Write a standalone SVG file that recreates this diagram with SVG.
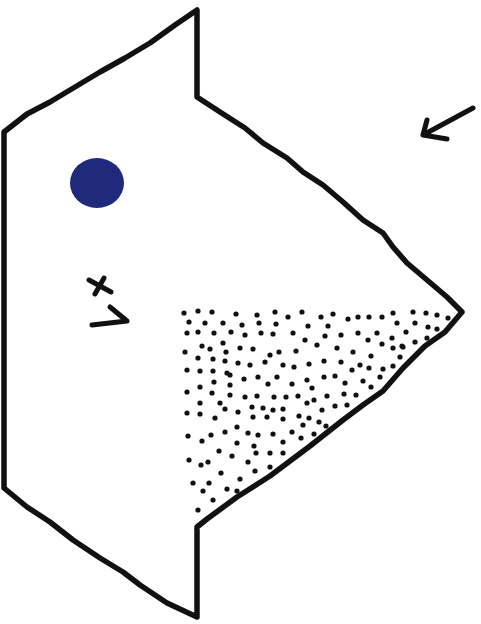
<svg xmlns="http://www.w3.org/2000/svg" width="481" height="624" viewBox="0 0 481 624">
<style>
.ink{fill:none;stroke:#111;stroke-width:5.5;stroke-linecap:round;stroke-linejoin:round}
.mark{fill:none;stroke:#111;stroke-width:5;stroke-linecap:round;stroke-linejoin:round}
.d circle{fill:#111}
</style>
<rect width="481" height="624" fill="#fff"/>
<g id="outline">
<path class="ink" d="M197,10 L197,97 L220,112 L245,128 L263,143 L287,158 L303,172 L323,185 L343,202 L363,220 L383,233 L393,247 L407,263 L427,280 L447,297 L462,312 L445,332 L425,346 L403,368 L383,391 L363,405 L343,420 L310,446 L290,461 L270,476 L237,497 L207,519 L197,527 L197,617 L167,603 L140,585 L123,572 L100,558 L73,540 L50,522 L27,507 L4,488 L4,132 L27,114 L50,102 L75,87 L100,72 L125,58 L150,43 L175,25 Z"/>
</g>
<g id="eye">
<ellipse cx="97" cy="183" rx="27" ry="25" fill="#1f2a7c"/>
</g>
<g id="marks">
<path class="mark" d="M89,280 L111,292 M104,278 L95,294"/>
<path class="mark" d="M92,325 L127,321 L110,307"/>
</g>
<g id="arrow">
<path class="mark" d="M473,108 L423,135 M427,120 L423,135 L447,139"/>
</g>
<g id="stipple" class="d">
<circle cx="184" cy="313" r="2.6"/><circle cx="198" cy="311" r="2.6"/><circle cx="212" cy="312" r="2.6"/><circle cx="236" cy="314" r="2.6"/><circle cx="257" cy="315" r="2.6"/><circle cx="275" cy="312" r="2.6"/><circle cx="288" cy="317" r="2.6"/><circle cx="302" cy="312" r="2.6"/><circle cx="321" cy="317" r="2.6"/><circle cx="333" cy="314" r="2.6"/><circle cx="348" cy="319" r="2.6"/><circle cx="358" cy="317" r="2.6"/><circle cx="369" cy="317" r="2.6"/><circle cx="382" cy="317" r="2.6"/><circle cx="393" cy="313" r="2.6"/><circle cx="413" cy="312" r="2.6"/><circle cx="426" cy="313" r="2.6"/><circle cx="437" cy="315" r="2.6"/><circle cx="448" cy="318" r="2.6"/>
<circle cx="189" cy="322" r="2.6"/><circle cx="205" cy="323" r="2.6"/><circle cx="223" cy="323" r="2.6"/><circle cx="242" cy="325" r="2.6"/><circle cx="259" cy="323" r="2.6"/><circle cx="276" cy="324" r="2.6"/><circle cx="308" cy="326" r="2.6"/><circle cx="328" cy="326" r="2.6"/><circle cx="397" cy="323" r="2.6"/><circle cx="415" cy="323" r="2.6"/><circle cx="428" cy="327" r="2.6"/><circle cx="437" cy="329" r="2.6"/>
<circle cx="187" cy="333" r="2.6"/><circle cx="198" cy="332" r="2.6"/><circle cx="214" cy="333" r="2.6"/><circle cx="231" cy="332" r="2.6"/><circle cx="245" cy="335" r="2.6"/><circle cx="261" cy="333" r="2.6"/><circle cx="273" cy="334" r="2.6"/><circle cx="293" cy="333" r="2.6"/><circle cx="325" cy="336" r="2.6"/><circle cx="341" cy="335" r="2.6"/><circle cx="358" cy="333" r="2.6"/><circle cx="377" cy="333" r="2.6"/><circle cx="392" cy="338" r="2.6"/><circle cx="406" cy="332" r="2.6"/><circle cx="427" cy="338" r="2.6"/>
<circle cx="305" cy="340" r="2.6"/><circle cx="368" cy="340" r="2.6"/><circle cx="382" cy="344" r="2.6"/><circle cx="403" cy="347" r="2.6"/><circle cx="415" cy="342" r="2.6"/><circle cx="223" cy="343" r="2.6"/><circle cx="202" cy="346" r="2.6"/><circle cx="210" cy="349" r="2.6"/><circle cx="240" cy="348" r="2.6"/><circle cx="253" cy="349" r="2.6"/><circle cx="317" cy="345" r="2.6"/><circle cx="337" cy="348" r="2.6"/><circle cx="393" cy="348" r="2.6"/><circle cx="402" cy="346" r="2.6"/>
<circle cx="185" cy="352" r="2.6"/><circle cx="226" cy="352" r="2.6"/><circle cx="270" cy="355" r="2.6"/><circle cx="279" cy="352" r="2.6"/><circle cx="296" cy="351" r="2.6"/><circle cx="353" cy="352" r="2.6"/><circle cx="371" cy="356" r="2.6"/><circle cx="400" cy="357" r="2.6"/>
<circle cx="198" cy="358" r="2.6"/><circle cx="213" cy="359" r="2.6"/><circle cx="225" cy="361" r="2.6"/><circle cx="238" cy="363" r="2.6"/><circle cx="250" cy="365" r="2.6"/><circle cx="265" cy="362" r="2.6"/><circle cx="283" cy="365" r="2.6"/><circle cx="294" cy="367" r="2.6"/><circle cx="309" cy="364" r="2.6"/><circle cx="324" cy="361" r="2.6"/><circle cx="341" cy="362" r="2.6"/><circle cx="360" cy="365" r="2.6"/><circle cx="369" cy="368" r="2.6"/><circle cx="383" cy="369" r="2.6"/><circle cx="393" cy="366" r="2.6"/>
<circle cx="187" cy="370" r="2.6"/><circle cx="200" cy="371" r="2.6"/><circle cx="213" cy="371" r="2.6"/><circle cx="227" cy="373" r="2.6"/><circle cx="352" cy="370" r="2.6"/>
<circle cx="230" cy="375" r="2.6"/><circle cx="244" cy="379" r="2.6"/><circle cx="258" cy="377" r="2.6"/><circle cx="277" cy="377" r="2.6"/><circle cx="292" cy="384" r="2.6"/><circle cx="307" cy="380" r="2.6"/><circle cx="324" cy="377" r="2.6"/><circle cx="335" cy="376" r="2.6"/><circle cx="345" cy="383" r="2.6"/><circle cx="363" cy="381" r="2.6"/><circle cx="380" cy="377" r="2.6"/>
<circle cx="200" cy="387" r="2.6"/><circle cx="214" cy="382" r="2.6"/><circle cx="230" cy="385" r="2.6"/><circle cx="268" cy="384" r="2.6"/><circle cx="312" cy="388" r="2.6"/><circle cx="371" cy="387" r="2.6"/>
<circle cx="187" cy="392" r="2.6"/><circle cx="212" cy="393" r="2.6"/><circle cx="230" cy="395" r="2.6"/><circle cx="245" cy="397" r="2.6"/><circle cx="257" cy="396" r="2.6"/><circle cx="274" cy="397" r="2.6"/><circle cx="286" cy="397" r="2.6"/><circle cx="298" cy="396" r="2.6"/><circle cx="307" cy="403" r="2.6"/><circle cx="314" cy="400" r="2.6"/><circle cx="327" cy="396" r="2.6"/><circle cx="344" cy="394" r="2.6"/><circle cx="356" cy="395" r="2.6"/>
<circle cx="200" cy="403" r="2.6"/><circle cx="220" cy="403" r="2.6"/><circle cx="225" cy="409" r="2.6"/><circle cx="252" cy="407" r="2.6"/><circle cx="263" cy="408" r="2.6"/><circle cx="273" cy="410" r="2.6"/><circle cx="283" cy="409" r="2.6"/><circle cx="335" cy="406" r="2.6"/><circle cx="347" cy="405" r="2.6"/>
<circle cx="187" cy="413" r="2.6"/><circle cx="200" cy="414" r="2.6"/><circle cx="215" cy="418" r="2.6"/><circle cx="238" cy="412" r="2.6"/><circle cx="253" cy="417" r="2.6"/><circle cx="267" cy="417" r="2.6"/><circle cx="283" cy="419" r="2.6"/><circle cx="299" cy="416" r="2.6"/><circle cx="309" cy="418" r="2.6"/><circle cx="322" cy="410" r="2.6"/><circle cx="319" cy="422" r="2.6"/>
<circle cx="237" cy="427" r="2.6"/><circle cx="303" cy="425" r="2.6"/><circle cx="326" cy="426" r="2.6"/>
<circle cx="188" cy="436" r="2.6"/><circle cx="202" cy="441" r="2.6"/><circle cx="211" cy="435" r="2.6"/><circle cx="225" cy="432" r="2.6"/><circle cx="248" cy="433" r="2.6"/><circle cx="258" cy="435" r="2.6"/><circle cx="273" cy="434" r="2.6"/><circle cx="292" cy="432" r="2.6"/><circle cx="301" cy="438" r="2.6"/><circle cx="314" cy="434" r="2.6"/>
<circle cx="237" cy="443" r="2.6"/><circle cx="254" cy="446" r="2.6"/><circle cx="283" cy="442" r="2.6"/>
<circle cx="219" cy="451" r="2.6"/><circle cx="232" cy="456" r="2.6"/><circle cx="256" cy="453" r="2.6"/><circle cx="270" cy="453" r="2.6"/><circle cx="283" cy="453" r="2.6"/>
<circle cx="189" cy="460" r="2.6"/><circle cx="201" cy="465" r="2.6"/><circle cx="208" cy="462" r="2.6"/><circle cx="248" cy="462" r="2.6"/><circle cx="270" cy="467" r="2.6"/>
<circle cx="221" cy="473" r="2.6"/><circle cx="255" cy="471" r="2.6"/>
<circle cx="193" cy="483" r="2.6"/><circle cx="209" cy="483" r="2.6"/><circle cx="240" cy="479" r="2.6"/>
<circle cx="203" cy="491" r="2.6"/><circle cx="227" cy="489" r="2.6"/><circle cx="237" cy="491" r="2.6"/>
<circle cx="213" cy="500" r="2.6"/><circle cx="198" cy="510" r="2.6"/>
</g>
</svg>
